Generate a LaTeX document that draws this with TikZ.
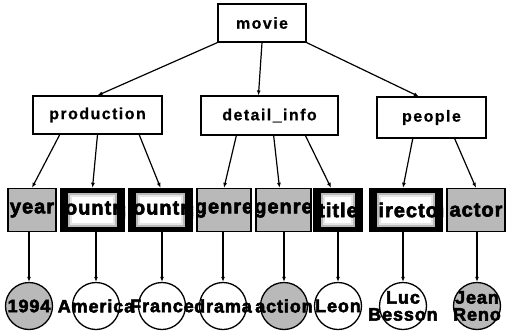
\documentclass[tikz,border=0pt]{standalone}
\usepackage{fontspec}
\setmainfont{Liberation Sans}
\newfontfamily\hdfont{Liberation Sans}[LetterSpace=9, BoldFeatures={FakeBold=0.6}]
\newfontfamily\lffont{Liberation Sans}[LetterSpace=5, BoldFeatures={FakeBold=3}]
\usetikzlibrary{arrows.meta,calc}

\tikzset{
  hd/.style={draw, line width=1.1pt, fill=white, inner sep=0pt,
    font=\hdfont\bfseries\fontsize{16}{18}\selectfont},
  bxfont/.style={font=\lffont\bfseries\fontsize{20}{20}\selectfont, inner sep=0pt},
  graybox/.style={draw, line width=1.4pt, fill=gray!55, inner sep=0pt,
    minimum height=43pt,
    path picture={\node[bxfont] at (path picture bounding box.center) {#1};}},
  darkbox/.style={fill=black, inner sep=0pt, minimum height=44pt,
    path picture={
      \fill[gray!55] ($(path picture bounding box.south west)+(8pt,5pt)$)
        rectangle ($(path picture bounding box.north east)+(-8pt,-5pt)$);
      \fill[gray!20] ($(path picture bounding box.south west)+(10pt,7pt)$)
        rectangle ($(path picture bounding box.north east)+(-10pt,-7pt)$);
      \fill[white] ($(path picture bounding box.south west)+(12pt,9pt)$)
        rectangle ($(path picture bounding box.north east)+(-12pt,-9pt)$);
      \node[bxfont] at (path picture bounding box.center) {#1};}},
  lf/.style={font=\lffont\bfseries\fontsize{18}{17}\selectfont,
    inner sep=0pt, align=center},
  leaf/.style={circle, draw, line width=1.3pt, fill=white,
    minimum size=47pt, inner sep=0pt, label={[lf]center:#1}},
  leafg/.style={leaf=#1, fill=gray!55},
  arr/.style={-{Latex[length=5pt,width=4pt]}, line width=1.2pt},
}

\begin{document}
\begin{tikzpicture}[x=1pt, y=-1pt]
\useasboundingbox (0,0) rectangle (507,333);

% top levels
\node[hd, minimum width=88pt, minimum height=38pt] (movie) at (262,23) {movie};
\node[hd, minimum width=129pt, minimum height=38pt] (prod) at (97.5,115) {production};
\node[hd, minimum width=137pt, minimum height=39pt] (detail) at (269.5,115.5) {detail\_info};
\node[hd, minimum width=109pt, minimum height=41pt] (people) at (431.5,117.5) {people};

% element row
\node[graybox=year, minimum width=48pt] (year) at (32,210) {};
\node[darkbox=country, minimum width=65pt] (country1) at (92.5,210) {};
\node[darkbox=country, minimum width=65pt] (country2) at (160.5,210) {};
\node[graybox=genre, minimum width=54pt] (genre1) at (224,210) {};
\node[graybox=genre, minimum width=55pt] (genre2) at (283.5,210) {};
\node[darkbox=title, minimum width=50pt] (title) at (338,210) {};
\node[darkbox=director, minimum width=74pt] (director) at (406,210) {};
\node[graybox=actor, minimum width=58pt] (actor) at (476,210) {};

% values
\node[leafg=1994] (v1994) at (29,306) {};
\node[leaf=America] (vamerica) at (96,306) {};
\node[leaf=France] (vfrance) at (162,306) {};
\node[leaf=drama] (vdrama) at (223,306) {};
\node[leafg=action] (vaction) at (284,306) {};
\node[leaf=Leon] (vleon) at (338,306) {};
\node[leaf={Luc\\Besson}] (vluc) at (403,306) {};
\node[leafg={Jean\\Reno}] (vjean) at (477,306) {};

% movie to its parts
\draw[arr] (movie.south west) -- (prod.north);
\draw[arr] (movie.south) -- ($(detail.north west)!0.42!(detail.north east)$);
\draw[arr] (movie.south east) -- ($(people.north west)!0.385!(people.north east)$);

% parts to elements
\draw[arr] ($(prod.south west)!0.21!(prod.south east)$) -- (year.north);
\draw[arr] ($(prod.south west)!0.50!(prod.south east)$) -- (country1.north);
\draw[arr] ($(prod.south west)!0.82!(prod.south east)$) -- (country2.north);
\draw[arr] ($(detail.south west)!0.26!(detail.south east)$) -- (genre1.north);
\draw[arr] ($(detail.south west)!0.53!(detail.south east)$) -- ([xshift=-4pt]genre2.north);
\draw[arr] ($(detail.south west)!0.76!(detail.south east)$) -- ([xshift=-7pt]title.north);
\draw[arr] ($(people.south west)!0.33!(people.south east)$) -- ([xshift=-3pt]director.north);
\draw[arr] ($(people.south west)!0.71!(people.south east)$) -- (actor.north);

% elements to values
\draw[arr] (v1994.north |- year.south) -- (v1994.north);
\draw[arr] (vamerica.north |- country1.south) -- (vamerica.north);
\draw[arr] (vfrance.north |- country2.south) -- (vfrance.north);
\draw[arr] (vdrama.north |- genre1.south) -- (vdrama.north);
\draw[arr] (vaction.north |- genre2.south) -- (vaction.north);
\draw[arr] (vleon.north |- title.south) -- (vleon.north);
\draw[arr] (vluc.north |- director.south) -- (vluc.north);
\draw[arr] (vjean.north |- actor.south) -- (vjean.north);
\end{tikzpicture}
\end{document}
